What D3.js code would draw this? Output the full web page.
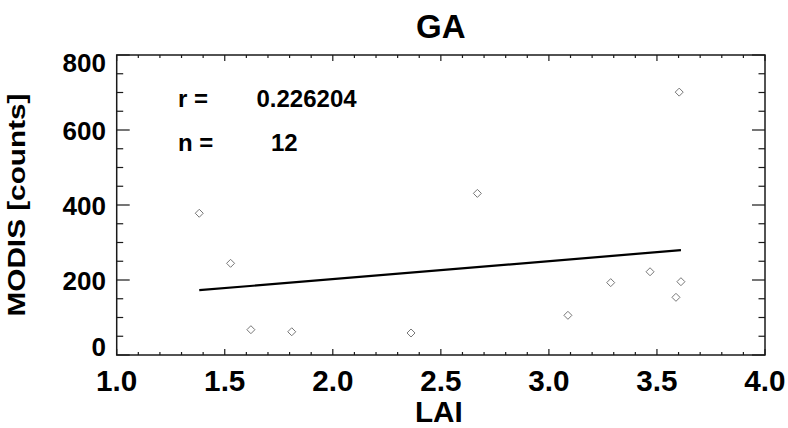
<!DOCTYPE html>
<html>
<head>
<meta charset="utf-8">
<script src="https://cdn.jsdelivr.net/npm/d3@7"></script>
<style>
  html, body { margin: 0; padding: 0; background: #fff; }
  svg { display: block; }
  text { font-family: "Liberation Sans", Arial, Helvetica, sans-serif; font-weight: bold; fill: #000; }
</style>
</head>
<body>
<svg id="chart" width="788" height="428"></svg>
<script>
// ---- data ----
const title = "GA";
const xLabel = "LAI";
const yLabel = "MODIS [counts]";
const laiValues   = [1.382, 1.527, 1.621, 1.810, 2.362, 2.669, 3.088, 3.286, 3.468, 3.588, 3.603, 3.611];
const modisValues = [378,   244.5, 67.5,  62,    58.7,  431,   105.8, 193,   222,   153.8, 701,   195.5];
const xTickValues = [1.0, 1.5, 2.0, 2.5, 3.0, 3.5, 4.0];
const xTickLabels = ["1.0", "1.5", "2.0", "2.5", "3.0", "3.5", "4.0"];
const yTickValues = [0, 200, 400, 600, 800];
const yTickLabels = ["0", "200", "400", "600", "800"];
const statLabels = ["r =", "n ="];
const statValues = ["0.226204", "12"];

// ---- layout ----
const L = 116.7, R = 765, T = 55, B = 355;
const svg = d3.select("#chart");
const x = d3.scaleLinear().domain([1, 4]).range([L, R]);
const y = d3.scaleLinear().domain([0, 800]).range([B, T]);

const axisColor = "#1a1a1a";
const g = svg.append("g");

// frame
g.append("rect").attr("x", L).attr("y", T).attr("width", R - L).attr("height", B - T)
  .attr("fill", "none").attr("stroke", axisColor).attr("stroke-width", 1.5);

// ticks
const xMinor = d3.range(10, 41).map(d => d / 10);
const yMinor = d3.range(0, 801, 50);
const isXMajor = v => Math.abs(v * 2 - Math.round(v * 2)) < 1e-6;
const isYMajor = v => v % 200 === 0;

xMinor.forEach(v => {
  const len = isXMajor(v) ? 6 : 3;
  const px = x(v);
  g.append("line").attr("x1", px).attr("x2", px).attr("y1", B).attr("y2", B - len)
    .attr("stroke", axisColor).attr("stroke-width", 1.2);
  g.append("line").attr("x1", px).attr("x2", px).attr("y1", T).attr("y2", T + len)
    .attr("stroke", axisColor).attr("stroke-width", 1.2);
});
yMinor.forEach(v => {
  const len = isYMajor(v) ? 13 : 6.5;
  const py = y(v);
  g.append("line").attr("x1", L).attr("x2", L + len).attr("y1", py).attr("y2", py)
    .attr("stroke", axisColor).attr("stroke-width", 1.2);
  g.append("line").attr("x1", R).attr("x2", R - len).attr("y1", py).attr("y2", py)
    .attr("stroke", axisColor).attr("stroke-width", 1.2);
});

// x tick labels
xTickValues.forEach((v, i) => {
  svg.append("text").attr("x", x(v)).attr("y", 391.5)
    .attr("text-anchor", "middle").attr("font-size", 28)
    .attr("transform", `translate(${x(v)},391.5) scale(1.06,1.08) translate(${-x(v)},-391.5)`)
    .text(xTickLabels[i]);
});
// y tick labels
yTickValues.forEach((v, i) => {
  let by = y(v) + 10;
  if (i === yTickValues.length - 1) by = y(v) + 17;
  if (i === 0) by = y(v) + 1;
  svg.append("text").attr("x", 106).attr("y", by)
    .attr("text-anchor", "end").attr("font-size", 26)
    .text(yTickLabels[i]);
});

// title and axis labels
svg.append("text").attr("x", (L + R) / 2).attr("y", 38.3)
  .attr("text-anchor", "middle").attr("font-size", 33).text(title);
svg.append("text").attr("x", (L + R) / 2 - 2).attr("y", 422)
  .attr("text-anchor", "middle").attr("font-size", 27)
  .attr("transform", `translate(${(L + R) / 2 - 2},422) scale(1.1,1.1) translate(${-(L + R) / 2 + 2},-422)`)
  .text(xLabel);
svg.append("text")
  .attr("transform", `translate(25,${(T + B) / 2}) rotate(-90)`)
  .attr("text-anchor", "middle").attr("font-size", 24)
  .attr("textLength", 223).attr("lengthAdjust", "spacingAndGlyphs")
  .text(yLabel);

// regression line (least squares)
const mx = d3.mean(laiValues), my = d3.mean(modisValues);
const sxy = d3.sum(laiValues, (v, i) => (v - mx) * (modisValues[i] - my));
const sxx = d3.sum(laiValues, v => (v - mx) * (v - mx));
const slope = sxy / sxx, icpt = my - slope * mx;
const [x0, x1] = d3.extent(laiValues);
svg.append("line")
  .attr("x1", x(x0)).attr("y1", y(icpt + slope * x0))
  .attr("x2", x(x1)).attr("y2", y(icpt + slope * x1))
  .attr("stroke", "#000").attr("stroke-width", 2.2);

// points (diamonds)
const pts = laiValues.map((v, i) => [v, modisValues[i]]);
svg.append("g").selectAll("path").data(pts).join("path")
  .attr("d", d => {
    const cx = x(d[0]), cy = y(d[1]), s = 4;
    return `M${cx},${cy - s}L${cx + s},${cy}L${cx},${cy + s}L${cx - s},${cy}Z`;
  })
  .attr("fill", "none").attr("stroke", "#777").attr("stroke-width", 1);

// stats text
const statY = [106.5, 150.5];
statLabels.forEach((s, i) => {
  svg.append("text").attr("x", 178).attr("y", statY[i]).attr("font-size", 24).text(s);
});
svg.append("text").attr("x", 256.5).attr("y", statY[0]).attr("font-size", 24).text(statValues[0]);
svg.append("text").attr("x", 271).attr("y", statY[1]).attr("font-size", 24).text(statValues[1]);
</script>
</body>
</html>
